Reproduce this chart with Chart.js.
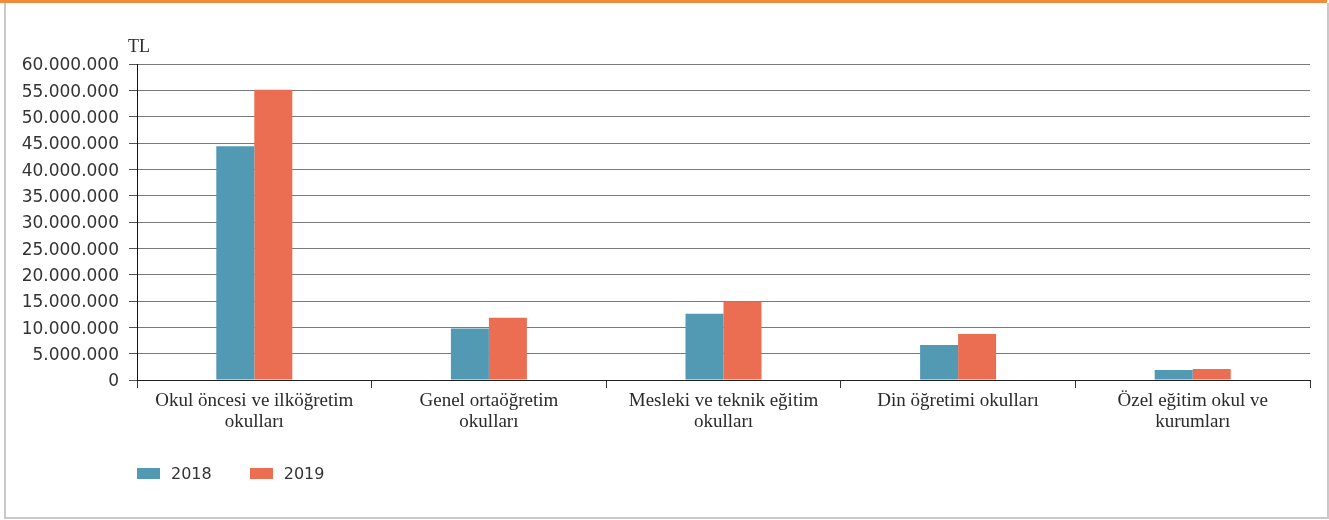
<!DOCTYPE html>
<html>
<head>
<meta charset="utf-8">
<script src="https://cdn.jsdelivr.net/npm/chart.js@4.4.1/dist/chart.umd.min.js"></script>
<style>
  html, body { margin: 0; padding: 0; background: #fff; }
  body { width: 1329px; height: 520px; position: relative; overflow: hidden; }
  #wrap { position: absolute; left: 0; top: 0; width: 1329px; height: 520px; }
  #topline { position: absolute; left: 0; top: 0; width: 1327px; height: 3px; background: #F08A3C; }
  #frame { position: absolute; left: 4px; top: 3px; width: 1321px; height: 514px;
           border-left: 2px solid #c9c9c9; border-right: 2px solid #c9c9c9; border-bottom: 2px solid #c9c9c9; }
  #legend { position: absolute; left: 137px; top: 464px; font-family: "DejaVu Sans", sans-serif; font-size: 16px; color: #333; }
  #legend .item { display: inline-block; margin-right: 38px; }
  #legend .box { display: inline-block; width: 23px; height: 11px; margin-right: 11px; vertical-align: 0px; }
</style>
</head>
<body>
<div id="wrap"><canvas id="c" width="1329" height="520"></canvas></div>
<div id="topline"></div>
<div id="frame"></div>
<div id="legend"></div>
<script>
const categories = [
  ["Okul öncesi ve ilköğretim", "okulları"],
  ["Genel ortaöğretim", "okulları"],
  ["Mesleki ve teknik eğitim", "okulları"],
  ["Din öğretimi okulları"],
  ["Özel eğitim okul ve", "kurumları"]
];
const seriesNames = ["2018", "2019"];
const values2018 = [44400000, 9800000, 12600000, 6650000, 1900000];
const values2019 = [55100000, 11800000, 14900000, 8750000, 2100000];
const colors = ["#5299B4", "#EB6E52"];
const yUnit = "TL";

const tlPlugin = {
  id: 'tl',
  afterDraw(chart) {
    const ctx = chart.ctx;
    ctx.save();
    ctx.font = '18px "Liberation Serif", serif';
    ctx.fillStyle = '#2a2a2a';
    ctx.textBaseline = 'alphabetic';
    ctx.fillText(yUnit, chart.chartArea.left - 9, chart.chartArea.top - 12);
    ctx.restore();
  }
};

const chart = new Chart(document.getElementById('c'), {
  type: 'bar',
  data: {
    labels: categories,
    datasets: [
      { label: seriesNames[0], data: values2018, backgroundColor: colors[0] },
      { label: seriesNames[1], data: values2019, backgroundColor: colors[1] }
    ]
  },
  options: {
    responsive: false,
    animation: false,
    layout: { padding: { left: 0, top: 64, right: 19, bottom: 80 } },
    datasets: { bar: { categoryPercentage: 0.324, barPercentage: 1.0 } },
    plugins: { legend: { display: false }, tooltip: { enabled: false } },
    scales: {
      x: {
        afterFit(s) { s.height = 60; },
        grid: { offset: true, drawOnChartArea: false, drawTicks: true, tickLength: 8, color: '#333' },
        border: { color: '#222', width: 1 },
        ticks: { color: '#2a2a2a', padding: 3, maxRotation: 0, autoSkip: false,
                 font: { family: '"Liberation Serif", serif', size: 19, lineHeight: 1.1 } }
      },
      y: {
        afterFit(s) { s.width = 137; },
        min: 0, max: 60000000,
        grid: { color: '#7a7a7a', tickLength: 8, tickColor: '#555' },
        border: { color: '#111', width: 1 },
        ticks: {
          stepSize: 5000000, color: '#333', padding: 10, labelOffset: 2,
          font: { family: '"DejaVu Sans", sans-serif', size: 17 },
          callback: v => v === 0 ? '0' : String(v).replace(/\B(?=(\d{3})+(?!\d))/g, '.')
        }
      }
    }
  },
  plugins: [tlPlugin]
});

const leg = document.getElementById('legend');
chart.data.datasets.forEach(ds => {
  const it = document.createElement('span');
  it.className = 'item';
  const b = document.createElement('span');
  b.className = 'box';
  b.style.background = ds.backgroundColor;
  it.appendChild(b);
  it.appendChild(document.createTextNode(ds.label));
  leg.appendChild(it);
});
</script>
</body>
</html>
